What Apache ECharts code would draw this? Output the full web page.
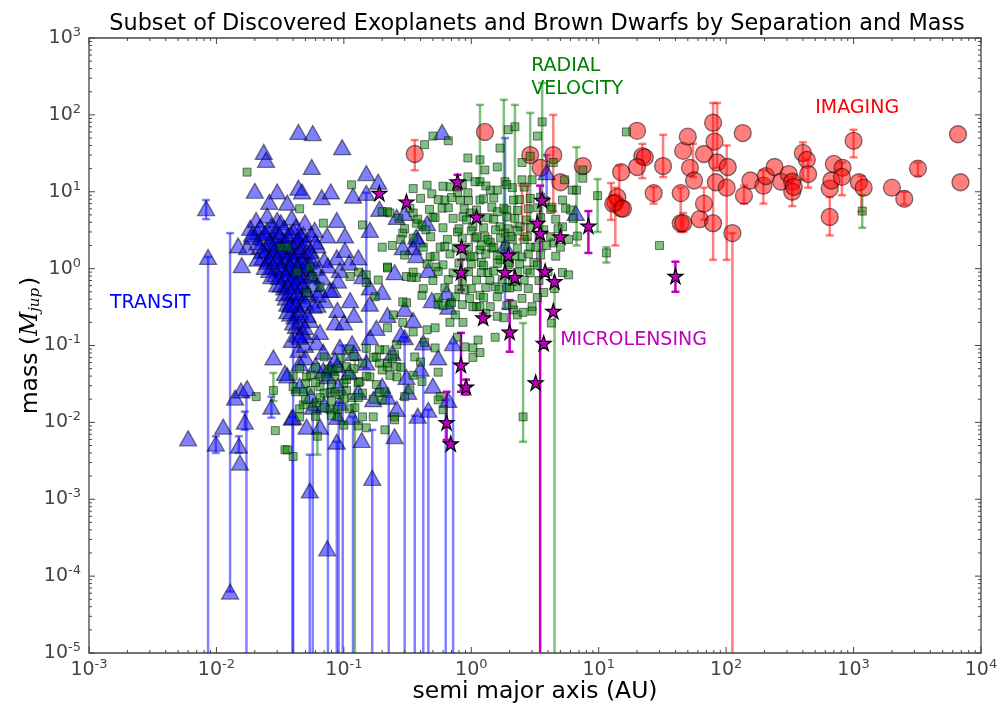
<!DOCTYPE html>
<html><head><meta charset="utf-8">
<script src="https://cdn.jsdelivr.net/npm/echarts@6/dist/echarts.min.js"></script>
<style>html,body{margin:0;padding:0;background:#fff}#c{width:1000px;height:706px}</style>
</head><body><div id="c"></div><script>
// ---------- DATA (semi-major axis [AU], mass [M_jup]) ----------
const xTickExps = [-3,-2,-1,0,1,2,3,4];
const yTickExps = [-5,-4,-3,-2,-1,0,1,2,3];

const transitPts = [
[0.044,60],[0.057,58],[0.097,38],[0.0235,33],[0.0245,26],[0.056,21],[0.15,17.5],[0.186,13.5],[0.020,10.3],[0.030,10.1],
[0.044,11.3],[0.047,10.1],[0.067,8.5],[0.079,10.1],[0.118,8.9],[0.15,9.7],[0.026,7.4],[0.036,7.2],[0.0083,6.1],[0.19,6.0],
[0.26,4.7],[0.30,5.3],[0.16,3.2],[0.030,4.3],[0.0086,1.42],[0.0148,2.0],[0.0174,1.9],[0.0158,1.11],[0.019,2.6],[0.088,4.3],
[0.074,2.7],[0.102,2.7],[0.13,1.4],[0.088,1.4],[0.37,2.6],[0.35,1.9],[0.16,0.57],[0.082,0.53],
[0.59,60],[3.9,18],[6.6,5.3],[0.29,1.9],[0.38,2.4],[0.37,1.5],[0.45,3.9],[0.46,0.96],[0.64,0.49],[0.49,0.39],[0.66,0.32],
[0.021,3.0],[0.023,2.5],[0.025,3.2],[0.028,2.65],[0.030,3.0],[0.033,2.4],[0.036,2.65],[0.040,3.1],[0.044,2.5],[0.048,2.8],
[0.022,1.95],[0.0245,1.75],[0.027,2.1],[0.029,1.8],[0.032,1.95],[0.035,1.65],[0.039,1.9],[0.042,1.75],[0.046,1.95],[0.051,1.65],
[0.023,1.4],[0.025,1.23],[0.028,1.45],[0.031,1.25],[0.034,1.4],[0.037,1.15],[0.041,1.36],[0.044,1.2],[0.049,1.4],[0.053,1.23],
[0.026,0.96],[0.029,0.85],[0.033,0.98],[0.036,0.85],[0.039,0.96],[0.043,0.81],[0.047,0.90],[0.052,1.0],
[0.030,0.63],[0.034,0.57],[0.038,0.68],[0.041,0.58],[0.045,0.66],[0.0495,0.53],[0.035,0.42],[0.039,0.37],[0.044,0.44],[0.048,0.39],
[0.036,0.28],[0.041,0.24],[0.045,0.29],[0.042,0.18],[0.047,0.15],[0.039,0.118],[0.044,0.088],[0.0495,0.102],
[0.0184,3.4],[0.0205,4.3],[0.025,4.9],[0.032,4.0],[0.039,4.6],[0.0495,4.0],[0.059,3.2],[0.062,2.0],[0.056,0.83],[0.065,0.53],
[0.062,0.34],[0.054,0.215],[0.071,0.39],[0.078,0.53],[0.093,0.96],[0.102,1.75],[0.112,0.39],[0.089,0.29],
[0.022,3.5],[0.027,3.6],[0.034,3.4],[0.042,3.5],[0.019,2.8],[0.024,2.9],[0.031,2.75],[0.038,2.85],[0.046,2.7],[0.055,2.8],
[0.021,2.2],[0.026,2.25],[0.029,2.15],[0.035,2.2],[0.043,2.3],[0.050,2.15],[0.060,2.25],[0.023,1.7],[0.028,1.68],[0.033,1.75],
[0.038,1.62],[0.045,1.7],[0.055,1.72],[0.021,1.35],[0.026,1.32],[0.030,1.38],[0.036,1.3],[0.040,1.33],[0.047,1.28],[0.058,1.36],
[0.070,1.3],[0.024,1.05],[0.028,1.08],[0.032,1.02],[0.038,1.06],[0.043,1.04],[0.050,1.1],[0.060,1.02],[0.027,0.8],[0.031,0.78],
[0.035,0.82],[0.040,0.76],[0.046,0.79],[0.055,0.81],[0.068,0.77],[0.032,0.62],[0.036,0.6],[0.042,0.64],[0.048,0.61],[0.058,0.63],
[0.034,0.48],[0.038,0.5],[0.043,0.47],[0.052,0.49],[0.062,0.46],[0.036,0.35],[0.042,0.34],[0.050,0.36],[0.058,0.33],
[0.038,0.26],[0.045,0.27],[0.052,0.25],[0.040,0.2],[0.046,0.21],[0.043,0.14],[0.050,0.135],
[0.075,1.1],[0.09,0.7],[0.11,1.2],[0.14,0.8],[0.2,0.5],[0.25,0.9],[0.12,0.25],[0.16,0.35],[0.085,0.2],[0.3,0.3],
[0.028,0.070],[0.0345,0.044],[0.027,0.016],[0.014,0.021],[0.0156,0.026],[0.0174,0.028],[0.0167,0.0102],[0.0113,0.0088],[0.006,0.0062],
[0.0099,0.0053],[0.0150,0.0050],[0.0153,0.0030],[0.054,0.0013],[0.167,0.0019],[0.0128,0.000063],[0.074,0.00023],
[0.038,0.34],[0.0495,0.173],[0.061,0.11],[0.093,0.096],[0.078,0.051],[0.089,0.056],[0.039,0.0115],[0.051,0.0088],[0.088,0.0056],
[0.138,0.0059],[0.25,0.0066],[0.30,0.128],[0.31,0.039],[0.22,0.0216],[0.22,0.25],[0.35,0.215],[0.38,0.0122],[0.66,0.0196],
[0.42,0.11],[0.72,0.107],[0.069,0.083],[0.040,0.0118],[0.065,0.0088],[0.089,0.0118],[0.116,0.0118],[0.093,0.018],[0.116,0.107],
[0.16,0.128],[0.045,0.059],[0.069,0.048],[0.036,0.041],[0.057,0.016],[0.46,0.0146],[1.84,2.0],
[0.05,0.07],[0.06,0.055],[0.075,0.04],[0.09,0.03],[0.11,0.045],[0.13,0.025],[0.17,0.02],[0.2,0.03],[0.26,0.015],[0.32,0.025],
[0.045,0.03],[0.055,0.022],[0.07,0.017],[0.085,0.065],[0.12,0.08],[0.15,0.06],[0.24,0.08],[0.4,0.05],[0.5,0.03],[0.55,0.07],
[0.045,0.13],[0.065,0.15],[0.1,0.2],[0.18,0.17],[0.28,0.14]
];
// [a, low, high]
const transitErr = [
[0.0083,4.4,7.8],[0.0086,1e-6,1.42],[0.0128,0.000063,2.9],[0.0099,0.0040,0.0066],[0.0150,0.0040,0.0066],
[0.0167,0.008,0.0138],[0.0172,1e-6,0.0216],[0.027,0.0115,0.0216],[0.040,1e-6,0.39],[0.0395,1e-6,0.0118],
[0.054,1e-6,0.0038],[0.057,1e-6,0.016],[0.075,1e-6,0.05],[0.088,1e-6,0.0056],[0.091,1e-6,0.018],[0.098,1e-6,0.1],
[0.118,1e-6,0.0118],[0.167,1e-6,0.008],[0.225,1e-6,0.0216],[0.30,1e-6,0.128],[0.36,1e-6,0.0122],[0.42,1e-6,0.11],
[0.46,1e-6,0.0146],[0.63,1e-6,0.0196],[0.72,1e-6,0.107],[0.15,0.05,9.7],[3.9,8,30],[1.84,0.3,50]
];

const rvPts = [
[0.0174,18],[0.115,12.3],[0.35,11],[0.045,6.0],[0.069,3.9],[0.14,3.7],[0.2,1.9],[0.24,2.0],[0.2,5.5],[0.22,5.5],
[0.29,2.9],[0.28,2.4],[0.37,3.9],[0.22,1.05],[0.13,0.90],[0.112,0.79],[0.15,0.83],[0.186,0.71],[0.15,0.66],[0.31,0.79],
[0.37,0.77],[0.176,0.43],[0.31,0.36],[0.043,0.90],[0.032,1.9],[0.036,1.9],[0.054,1.05],[0.057,0.79],[0.051,0.49],[0.065,0.58],
[0.50,53],[0.43,41],[0.66,46],[0.94,27.5],[1.17,26],[1.6,21],[1.68,37],[1.95,64],[2.2,70],[3.3,53],[3.6,81],[2.9,29],
[2.5,24],[3.0,14.3],[2.5,14.3],[1.84,13.5],[1.17,13.5],[1.28,19.2],[0.94,15.6],[1.6,10.5],[2.1,11.3],[4.4,24],[5.4,14.3],
[7.5,19.2],[6.2,10.5],[5.2,7.8],[6.0,5.8],[7.5,15],[9.8,8.9],[16.5,60],[11.5,1.6],[6.8,2.65],[6.7,10.5],
[0.49,9.4],[0.35,5.3],[0.59,6.1],[0.5,4.7],[0.23,5.3],[0.41,3.7],[0.57,1.9],[0.475,1.42],[0.53,1.05],[0.34,0.77],
[0.22,1.02],[0.41,0.45],[0.29,0.37],[0.55,0.34],[0.70,0.36],[0.82,7.8],[0.78,3.0],[1.17,7.8],[1.07,2.5],[0.86,0.89],
[0.98,1.42],[1.17,1.75],[1.35,0.89],[1.41,2.2],[1.68,3.5],[1.9,5.8],[2.15,7.8],[2.1,2.4],[2.42,3.5],[2.5,1.42],
[2.75,0.96],[2.3,0.58],[1.9,0.57],[1.54,0.58],[1.17,0.45],[0.89,0.53],[1.41,0.32],[2.15,0.29],[3.0,0.32],[3.7,0.49],
[4.4,2.16],[5.0,1.9],[5.2,3.5],[4.3,6.3],[3.5,8.5],[5.2,0.89],[5.8,0.83],[1.03,3.5],[1.2,1.2],[1.68,1.3],
[1.45,1.85],[2.75,2.6],[3.2,1.9],[3.1,1.2],[2.0,1.2],[1.84,2.9],[1.6,5.5],[1.35,4.6],[1.28,2.6],[0.98,5.3],
[0.86,4.7],[0.78,9.7],[0.68,11.6],[0.62,7.8],[1.41,10.5],[0.94,9.7],[1.07,13.5],
[0.45,12.2],[0.6,11.8],[0.85,12.5],[1.3,11.9],[1.9,12.4],[2.6,11.5],
[0.4,8.2],[0.55,7.9],[0.7,8.4],[0.95,7.7],[1.25,8.1],[1.5,8.3],[2.4,7.9],[2.9,8.2],[3.8,7.6],
[0.33,6.1],[0.47,5.9],[0.66,6.2],[0.88,6.0],[1.1,5.8],[1.45,6.3],[1.8,6.1],[2.3,5.7],[2.8,6.0],[3.3,6.2],[4.2,5.9],[5.5,6.1],
[0.27,4.5],[0.38,4.4],[0.52,4.6],[0.72,4.5],[0.92,4.3],[1.15,4.6],[1.5,4.4],[1.9,4.7],[2.2,4.5],[2.7,4.3],[3.5,4.6],[4.6,4.4],[6.3,4.5],
[0.3,3.3],[0.44,3.2],[0.6,3.4],[0.8,3.3],[1.0,3.1],[1.25,3.4],[1.55,3.2],[1.95,3.3],[2.3,3.1],[2.9,3.4],[3.7,3.2],[4.8,3.3],
[0.35,2.5],[0.48,2.6],[0.65,2.4],[0.85,2.5],[1.1,2.6],[1.35,2.4],[1.7,2.5],[2.05,2.6],[2.6,2.4],[3.4,2.5],[4.2,2.6],[5.8,2.4],
[0.42,1.9],[0.62,1.95],[0.76,1.85],[0.95,1.9],[1.2,2.0],[1.5,1.9],[1.85,1.95],[2.3,1.85],[2.9,1.9],[3.9,2.0],
[0.3,1.5],[0.52,1.45],[0.68,1.55],[0.88,1.5],[1.05,1.45],[1.3,1.55],[1.6,1.5],[2.2,1.45],[2.8,1.55],[3.5,1.5],[4.6,1.45],
[0.45,1.15],[0.6,1.12],[0.8,1.18],[1.0,1.15],[1.25,1.1],[1.6,1.17],[1.95,1.13],[2.4,1.16],[3.3,1.12],
[0.35,0.9],[0.55,0.92],[0.72,0.88],[0.95,0.91],[1.2,0.89],[1.5,0.93],[2.3,0.9],[2.9,0.88],[4.0,0.91],
[0.5,0.7],[0.66,0.72],[0.85,0.69],[1.1,0.71],[1.4,0.7],[1.75,0.72],[2.1,0.68],[2.6,0.71],[3.4,0.7],
[0.42,0.55],[0.62,0.56],[0.8,0.54],[1.0,0.55],[1.3,0.57],[1.65,0.54],[2.0,0.56],[2.8,0.55],
[0.55,0.42],[0.75,0.43],[0.97,0.41],[1.25,0.42],[1.6,0.43],[2.5,0.41],[3.3,0.42],
[0.6,0.33],[0.85,0.34],[1.1,0.32],[1.9,0.33],[0.75,0.25],[1.3,0.26],[1.6,0.24],[2.3,0.25],
[0.68,0.34],[1.03,0.32],[1.17,0.32],[1.54,0.128],[1.8,0.23],[2.1,0.34],[2.55,0.27],[3.0,0.28],[4.25,0.196],[2.55,0.0118],
[0.78,0.128],[1.03,0.070],[1.13,0.118],[1.17,0.081],[1.03,0.093],[0.89,0.096],[0.68,0.20],[0.86,0.20],[0.55,0.045],[0.57,0.0216],
[0.40,0.061],[0.35,0.041],[0.41,0.034],[0.30,0.0216],[0.25,0.0118],[0.2,0.0196],[0.21,0.0080],[0.52,0.093],[0.45,0.16],[0.35,0.15],
[0.52,0.17],[0.43,0.11],[0.29,0.20],[0.245,0.25],[0.22,0.17],[0.19,0.059],[0.22,0.053],[0.26,0.039],[0.33,0.0265],[0.25,0.076],
[0.21,0.088],[0.26,0.102],[0.6,0.0146],[0.55,0.0196],
[0.0345,0.0044],[0.040,0.0036],[0.36,0.071],[0.19,0.0245],[0.25,0.0108],[0.17,0.0118],[0.15,0.0085],[0.122,0.0155],[0.078,0.0146],
[0.057,0.016],[0.048,0.0169],[0.045,0.0118],[0.105,0.036],[0.134,0.034],[0.16,0.039],[0.22,0.059],[0.26,0.053],[0.18,0.071],
[0.14,0.059],[0.082,0.048],[0.105,0.053],[0.065,0.029],[0.078,0.0245],[0.093,0.023],[0.048,0.025],[0.040,0.029],[0.116,0.021],
[0.061,0.018],[0.089,0.0118],[0.065,0.039],[0.051,0.039],[0.0205,0.0216],[0.028,0.026],[0.029,0.0078],[0.036,0.0044],[0.062,0.0066],
[0.11,0.09],[0.15,0.092],[0.19,0.088],[0.07,0.071],[0.095,0.069],[0.12,0.072],[0.17,0.07],[0.24,0.068],
[0.045,0.05],[0.06,0.052],[0.075,0.049],[0.09,0.051],[0.12,0.05],[0.2,0.048],[0.28,0.052],
[0.04,0.04],[0.055,0.041],[0.072,0.039],[0.085,0.04],[0.11,0.042],[0.15,0.04],[0.23,0.041],
[0.05,0.032],[0.06,0.033],[0.08,0.031],[0.1,0.032],[0.13,0.033],[0.18,0.031],
[0.042,0.025],[0.055,0.026],[0.07,0.024],[0.085,0.025],[0.105,0.026],[0.14,0.024],[0.21,0.025],
[0.05,0.02],[0.065,0.021],[0.08,0.019],[0.1,0.02],[0.13,0.021],[0.17,0.02],
[0.045,0.015],[0.07,0.0155],[0.09,0.0148],[0.11,0.015],[0.06,0.012],[0.08,0.0122],[0.14,0.0118],[0.1,0.0092],[0.13,0.009],
[30,2.0],[1170,5.6],[4.5,0.55]
];
const rvErr = [
[1.17,13,135],[1.8,1.3,157],[2.2,3.5,135],[2.9,4.3,106],[3.6,1.75,260],[6.7,2.0,38],[9.8,3.0,14.6],[11.5,1.2,1.9],
[4.5,1e-6,0.6],[0.122,1e-6,0.065],[2.55,0.0056,0.196],[0.028,0.019,0.044],[1170,3.4,9.1],[0.062,0.0038,0.0146]
];

const microPts = [
[0.19,9.6],[0.31,7.4],[0.78,13.5],[1.1,4.7],[3.6,7.8],[3.3,3.9],[3.47,2.9],[8.3,3.6],[5.0,2.6],[3.8,0.92],
[4.5,0.68],[4.4,0.28],[0.84,1.9],[0.83,0.90],[1.95,1.5],[2.2,0.77],[1.84,0.9],[1.24,0.23],[2.0,0.15],[0.83,0.056],
[0.91,0.029],[0.64,0.010],[0.69,0.0053],[3.2,0.033],[3.7,0.107],[40,0.8]
];
const microErr = [
[0.78,10.5,16.6],[3.47,1e-6,12],[8.3,1.6,5.6],[0.83,0.53,1.3],[1.24,0.2,0.26],[2.0,0.083,0.39],[0.83,0.025,0.146],
[0.91,0.023,0.036],[0.64,0.0059,0.025],[40,0.5,1.23]
];

const imagingPts = [
[0.36,31],[1.28,60],[2.9,30],[4.4,30],[3.5,20.5],[5.0,13.3],[7.5,21.6],[15,18],[13.5,7.2],[15,6.1],[14,8.5],
[20,62],[22,29],[23,28],[20,21],[13,7],[15.5,6],[27,9.6],[32,21.6],[44,9.6],[46,34],[44,3.9],[46,3.9],[50,52],
[52,20.5],[56,14],[62,4.4],[67,31],[67,7],[79,79],[81,45],[85,24],[83,13.3],[79,3.9],[103,21],[101,11.3],[112,2.9],
[135,58],[138,8.9],[155,14],[196,12],[205,16],[240,21],[270,13.5],[310,17],[330,13.5],[330,10],[340,11.6],[400,32],
[430,26],[440,17],[650,11],[670,14],[700,23],[820,20.5],[810,15.6],[650,4.7],[1000,46],[1100,13.3],[1200,11.3],
[2000,11.3],[2500,8.1],[3200,20],[6600,56],[6900,13.3]
];
const imagingErr = [
[0.36,19,47],[4.4,5.5,100],[13.5,2.0,11.3],[12.5,4.3,13],[14.5,8,22],[22,15,42],[32,15.5,55],[27,7,11.5],[44,3.0,11.3],
[46,3.0,5.3],[55,15.5,42],[67,4.3,11.3],[79,1.3,143],[85,20.5,143],[101,1.3,40],[112,1e-6,2.9],[138,7,12],[196,7,19],
[330,6.5,16],[400,14.3,44],[440,11.3,26],[650,2.7,8.5],[810,9,24],[1000,28,64],[1150,5.5,16],[2500,6.8,10],[3200,16,24],
[2.5,2.4,12],[2.75,2.4,12]
];

// annotation labels: [a, m, text, colour, vertical anchor]
const notes = [
  [0.00146, 0.36, 'TRANSIT', '#0000ff', 'middle'],
  [2.95, 601, 'RADIAL\nVELOCITY', '#008000', 'top'],
  [500, 123, 'IMAGING', '#ff0000', 'middle'],
  [4.98, 0.118, 'MICROLENSING', '#bf00bf', 'middle']
];

// ---------- CHART ----------
const FONT = 'DejaVu Sans';
const STAR = 'path://M50,0 L61.2,34.5 L97.6,34.5 L68.2,55.9 L79.4,90.5 L50,69.1 L20.6,90.5 L31.8,55.9 L2.4,34.5 L38.8,34.5 Z';
const chart = echarts.init(document.getElementById('c'), null, {renderer:'canvas'});

function errSeries(name, data, color, width, cap) {
  return {
    name: name, type: 'custom', silent: true, clip: true, data: data,
    encode: {x: 0, y: [1, 2]},
    renderItem: function (params, api) {
      const x = api.value(0), lo = api.value(1), hi = api.value(2);
      const p1 = api.coord([x, hi]), p2 = api.coord([x, lo]);
      const h = cap / 2, st = {stroke: color, lineWidth: width};
      return {type: 'group', children: [
        {type: 'line', shape: {x1: p1[0], y1: p1[1], x2: p2[0], y2: p2[1]}, style: st},
        {type: 'line', shape: {x1: p1[0]-h, y1: p1[1], x2: p1[0]+h, y2: p1[1]}, style: st},
        {type: 'line', shape: {x1: p2[0]-h, y1: p2[1], x2: p2[0]+h, y2: p2[1]}, style: st}
      ]};
    }
  };
}

function fmtPow(v) {
  const e = Math.round(Math.log10(v));
  return '{b|10}{s|' + e + '}';
}
const labRich = {
  b: {fontSize: 19, color: '#444', fontFamily: FONT},
  s: {fontSize: 13, color: '#444', fontFamily: FONT, padding: [0, 0, 11, 0]}
};

const option = {
  animation: false,
  backgroundColor: '#fff',
  title: {
    text: 'Subset of Discovered Exoplanets and Brown Dwarfs by Separation and Mass',
    left: 532, top: 8, textAlign: 'center',
    textStyle: {fontSize: 22.4, fontWeight: 'normal', color: '#000', fontFamily: FONT}
  },
  grid: {left: 89, right: 19, top: 38, bottom: 53, show: true, containLabel: false, outerBoundsMode: 'none',
         borderColor: '#444', borderWidth: 1.3, backgroundColor: 'transparent'},
  xAxis: {
    type: 'log', logBase: 10, min: 1e-3, max: 1e4, interval: 1,
    name: 'semi major axis (AU)', nameLocation: 'middle', nameGap: 27, nameMoveOverlap: false,
    nameTextStyle: {fontSize: 23.5, color: '#000', fontFamily: FONT},
    axisLine: {show: false}, axisTick: {show: false}, splitLine: {show: false},
    axisLabel: {formatter: fmtPow, rich: labRich, margin: 5}
  },
  yAxis: {
    type: 'log', logBase: 10, min: 1e-5, max: 1e3, interval: 1,
    name: '{n|mass (}{i|M}{j|jup}{n|)}', nameLocation: 'middle', nameGap: 46, nameRotate: 90, nameMoveOverlap: false,
    nameTextStyle: {
      fontSize: 23.5, color: '#000', fontFamily: FONT,
      rich: {
        n: {fontSize: 23.5, color: '#000', fontFamily: FONT},
        i: {fontSize: 23.5, color: '#000', fontFamily: 'DejaVu Serif', fontStyle: 'italic'},
        j: {fontSize: 15, color: '#000', fontFamily: 'DejaVu Serif', fontStyle: 'italic', padding: [9, 2, 0, 0]}
      }
    },
    axisLine: {show: false}, axisTick: {show: false}, splitLine: {show: false},
    axisLabel: {formatter: fmtPow, rich: labRich, margin: 8}
  },
  series: [
    errSeries('imagingErr', imagingErr, 'rgba(255,0,0,0.5)', 2.5, 8),
    {name: 'Imaging', type: 'scatter', data: imagingPts, symbol: 'circle', symbolSize: 17,
     itemStyle: {color: 'rgba(255,0,0,0.5)', borderColor: 'rgba(0,0,0,0.5)', borderWidth: 1.3, opacity: 1}},
    errSeries('transitErr', transitErr, 'rgba(0,0,255,0.5)', 2.5, 8),
    {name: 'Transit', type: 'scatter', data: transitPts, symbol: 'triangle', symbolSize: [17, 15],
     itemStyle: {color: 'rgba(0,0,255,0.5)', borderColor: 'rgba(0,0,0,0.5)', borderWidth: 1.3, opacity: 1}},
    errSeries('rvErr', rvErr, 'rgba(0,128,0,0.5)', 2.5, 8),
    {name: 'Radial Velocity', type: 'scatter', data: rvPts, symbol: 'rect', symbolSize: 8,
     itemStyle: {color: 'rgba(0,128,0,0.5)', borderColor: 'rgba(0,0,0,0.5)', borderWidth: 1, opacity: 1}},
    errSeries('microErr', microErr, '#bf00bf', 2.5, 8),
    {name: 'Microlensing', type: 'scatter', data: microPts, symbol: STAR, symbolSize: 15,
     itemStyle: {color: '#bf00bf', borderColor: '#000', borderWidth: 1.2, opacity: 1}},
    {name: 'notes', type: 'scatter', silent: true, symbolSize: 0, z: 20, itemStyle: {opacity: 1},
     data: notes.map(n => ({value: [n[0], n[1]], label: {
       show: true, formatter: n[2], position: [0, 0], align: 'left', verticalAlign: n[4],
       color: n[3], opacity: 1, fontSize: 19, fontFamily: FONT, lineHeight: 23}}))},
    {name: 'ticks', type: 'custom', silent: true, clip: false, z: 15, data: [[1, 1]],
     renderItem: function (params, api) {
       const ch = [], st = {stroke: '#444', lineWidth: 1};
       const bl = api.coord([1e-3, 1e-5]), tr = api.coord([1e4, 1e3]);
       const L = bl[0], B = bl[1], R = tr[0], T = tr[1];
       for (let e = xTickExps[0]; e <= xTickExps[xTickExps.length-1]; e++) {
         for (let k = 1; k < 10; k++) {
           if (e === xTickExps[xTickExps.length-1] && k > 1) break;
           const px = api.coord([k * Math.pow(10, e), 1])[0], len = k === 1 ? 6 : 3;
           ch.push({type: 'line', shape: {x1: px, y1: B, x2: px, y2: B - len}, style: st});
           ch.push({type: 'line', shape: {x1: px, y1: T, x2: px, y2: T + len}, style: st});
         }
       }
       for (let e = yTickExps[0]; e <= yTickExps[yTickExps.length-1]; e++) {
         for (let k = 1; k < 10; k++) {
           if (e === yTickExps[yTickExps.length-1] && k > 1) break;
           const py = api.coord([1, k * Math.pow(10, e)])[1], len = k === 1 ? 6 : 3;
           ch.push({type: 'line', shape: {x1: L, y1: py, x2: L + len, y2: py}, style: st});
           ch.push({type: 'line', shape: {x1: R, y1: py, x2: R - len, y2: py}, style: st});
         }
       }
       return {type: 'group', children: ch};
     }}
  ]
};
chart.setOption(option);
</script></body></html>
